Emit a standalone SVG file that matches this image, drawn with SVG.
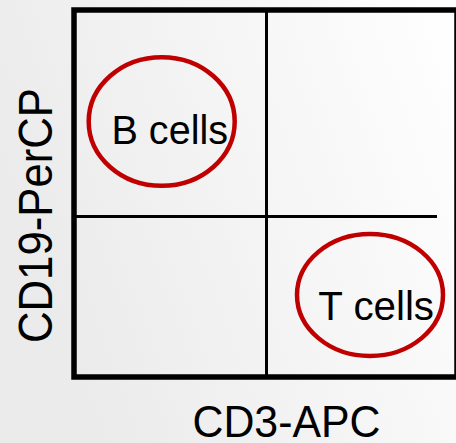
<svg xmlns="http://www.w3.org/2000/svg" width="456" height="443" viewBox="0 0 456 443">
  <style>
    .lbl { font-family: "Liberation Sans", Arial, sans-serif; fill: #000; }
    .gate { fill: none; stroke: #c00000; stroke-width: 4.5; }
    .frame { fill: none; stroke: #000; stroke-width: 5.5; }
    .split { stroke: #000; stroke-width: 3; }
  </style>
  <defs>
    <linearGradient id="bg" x1="0" y1="0.35" x2="1" y2="0">
      <stop offset="0" stop-color="#ebebeb"/>
      <stop offset="1" stop-color="#ffffff"/>
    </linearGradient>
  </defs>

  <!-- slide background -->
  <rect x="0" y="0" width="456" height="443" fill="url(#bg)"/>

  <!-- plot frame and quadrant gates -->
  <g id="connectors">
    <rect class="frame" x="74" y="10" width="383" height="367"/>
    <line class="split" x1="266.5" y1="10" x2="266.5" y2="377"/>
    <line class="split" x1="76" y1="216.5" x2="437" y2="216.5" stroke-width="2.5"/>
  </g>

  <!-- B cell population -->
  <g id="b-cells">
    <ellipse class="gate" cx="161.7" cy="121.5" rx="73" ry="64.3"/>
    <text class="lbl" x="111.5" y="144.3" font-size="40" textLength="116.5" lengthAdjust="spacingAndGlyphs">B cells</text>
  </g>

  <!-- T cell population -->
  <g id="t-cells">
    <ellipse class="gate" cx="370" cy="295" rx="73" ry="61"/>
    <text class="lbl" x="318.3" y="320" font-size="40" textLength="115.7" lengthAdjust="spacingAndGlyphs">T cells</text>
  </g>

  <!-- axis titles -->
  <g id="x-axis">
    <text class="lbl" x="192.5" y="436.7" font-size="45" textLength="188" lengthAdjust="spacingAndGlyphs">CD3-APC</text>
  </g>
  <g id="y-axis">
    <text class="lbl" transform="translate(51.7,343) rotate(-90)" x="0" y="0" font-size="48" textLength="255" lengthAdjust="spacingAndGlyphs">CD19-PerCP</text>
  </g>
</svg>
